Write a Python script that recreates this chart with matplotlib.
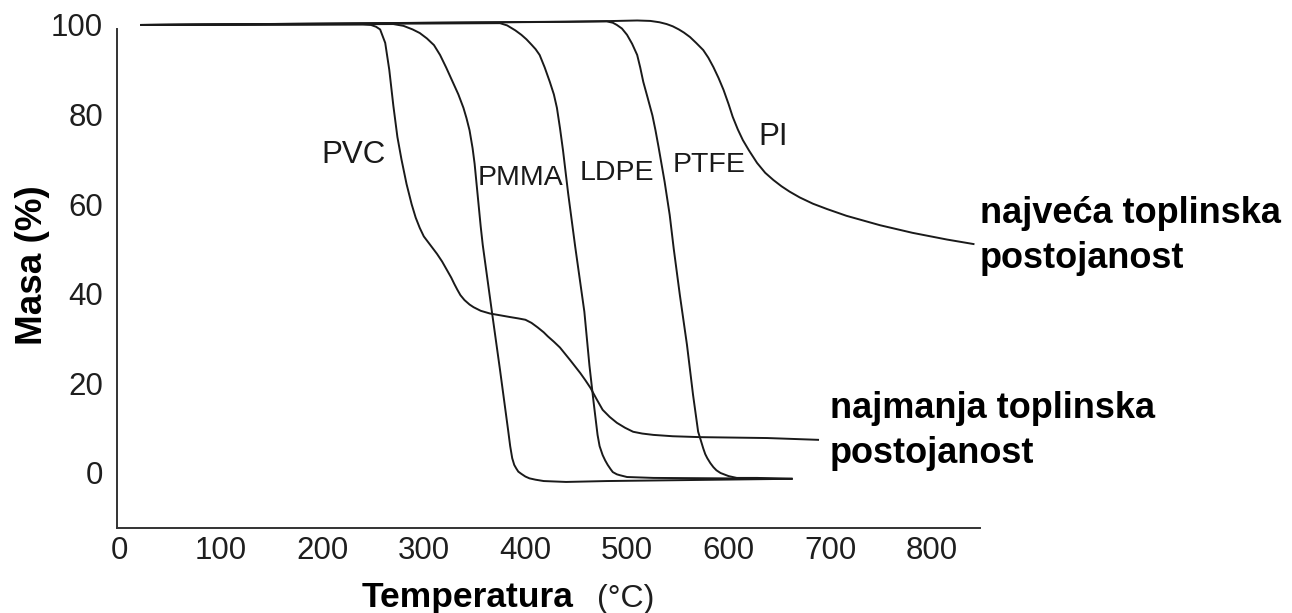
import matplotlib.pyplot as plt

plt.rcParams['font.family'] = ['Liberation Sans', 'DejaVu Sans']

# TGA krivulje (temperatura u °C, masa u %), ocitano sa slike
pvc_t = [22, 240, 248, 253, 257, 262, 266, 270, 274, 278, 283, 288, 292, 296, 300, 305, 309,
         313, 318, 323, 327, 330, 333, 336, 340, 345, 349, 356, 365, 375, 385, 393, 400, 406,
         412, 418, 422, 428, 434, 444, 454, 459, 464, 470, 476, 483, 490, 498, 506, 515, 526,
         545, 572, 638, 688]
pvc_m = [100, 100.1, 100, 99.6, 99, 96, 90, 82, 75, 70, 64.5, 60, 57, 54.7, 52.8, 51.3, 50.1,
         48.9, 47.2, 45.2, 43.6, 42.2, 40.9, 39.7, 38.6, 37.6, 37.0, 36.2, 35.6, 35.2, 34.8,
         34.5, 34.2, 33.5, 32.5, 31.4, 30.5, 29.3, 28, 25.2, 22.3, 20.7, 19, 16.5, 14.1, 12.5,
         11.2, 10.1, 9.2, 8.8, 8.5, 8.2, 8.0, 7.8, 7.4]

pmma_t = [22, 270, 280, 289, 296, 303, 310, 316, 322, 329, 334, 339, 342, 345, 348, 350, 353,
          356, 358, 367, 375, 383, 385, 387, 389, 391, 393, 396, 400, 404, 410, 418, 440, 480,
          662]
pmma_m = [100, 100.2, 99.8, 99, 98.2, 97, 95.5, 93.3, 90.5, 87, 84.5, 81.5, 79.2, 76.5, 72.5,
          69, 62, 55, 50.9, 36, 23, 9.5, 6, 3.3, 1.8, 1.0, 0.3, -0.2, -0.8, -1.2, -1.5, -1.8,
          -2.0, -1.8, -1.3]

ldpe_t = [22, 375, 382, 390, 396, 401, 406, 410, 414, 419, 424, 428, 431, 434, 437, 442, 449,
          458, 463, 467, 471, 473, 476, 478.5, 481, 484, 486, 490, 493, 500, 526, 662]
ldpe_m = [100, 100.4, 99.9, 98.8, 97.8, 96.8, 95.6, 94.6, 93.3, 90.5, 87.3, 84.5, 81.5, 77,
          72, 62.5, 50.5, 36, 24, 16, 8.5, 6, 4, 2.8, 1.8, 0.8, 0.2, -0.3, -0.5, -0.9, -1.1,
          -1.3]

ptfe_t = [22, 480, 486, 490, 495, 500, 505, 510, 513, 516, 520, 525, 528, 531, 537, 542, 546,
          552, 559, 565, 570, 573, 575, 577, 579, 582, 585, 588, 592, 600, 608, 628, 662]
ptfe_m = [100, 100.8, 100.5, 100, 99.2, 97.8, 95.8, 93.3, 90.5, 87.3, 84, 79.8, 76.5, 72.8,
          65, 57.6, 50, 39.7, 28.6, 17.4, 9.2, 7, 5.5, 4.2, 3.3, 2.2, 1.3, 0.6, 0, -0.7, -1.1,
          -1.1, -1.3]

pi_t = [22, 440, 490, 510, 523, 532, 539, 545, 551, 556, 562, 568, 575, 580, 585, 590, 595,
        600, 604, 609, 614, 620, 628, 636, 644, 652, 660, 670, 683, 697, 716, 749, 781, 815, 841]
pi_m = [100, 100.7, 100.9, 101, 100.9, 100.6, 100.2, 99.7, 99, 98.3, 97.3, 96, 94.4, 92.7,
        90.6, 88.2, 85.5, 82.3, 79.5, 76.7, 74.3, 72, 69.2, 67, 65.4, 64.0, 62.8, 61.5, 60.1,
        58.9, 57.4, 55.3, 53.6, 52.1, 51.1]

x_ticks = [0, 100, 200, 300, 400, 500, 600, 700, 800]
y_ticks = [0, 20, 40, 60, 80, 100]

W, H = 1292, 613
fig = plt.figure(figsize=(W / 100, H / 100), dpi=100)
ax = fig.add_axes([117 / W, (H - 528) / H, (980 - 117) / W, (528 - 16) / H])

line_kw = dict(color='#1a1a1a', lw=1.4, clip_on=False)
for t, m in [(pvc_t, pvc_m), (pmma_t, pmma_m), (ldpe_t, ldpe_m), (ptfe_t, ptfe_m), (pi_t, pi_m)]:
    ax.plot(t, m, **line_kw)

ax.set_xlim(-1.97, 847.4)
ax.set_ylim(-12.28, 102.0)
ax.set_xticks(x_ticks)
ax.set_yticks(y_ticks)
ax.tick_params(length=0, labelsize=22.5, labelcolor='#1e1e1e')
ax.tick_params(axis='x', pad=6)
ax.tick_params(axis='y', pad=10)
for s in ['top', 'right']:
    ax.spines[s].set_visible(False)
for s in ['left', 'bottom']:
    ax.spines[s].set_color('#333333')
    ax.spines[s].set_linewidth(1.4)
ax.spines['left'].set_bounds(-12.28, 99.1)

# oznake krivulja
txt = dict(color='#1a1a1a', va='baseline', ha='left')
ax.text(199, 69.2, 'PVC', fontsize=22.5, **txt)
ax.text(352.5, 64.3, 'PMMA', fontsize=20.5, **txt)
ax.text(453, 65.4, 'LDPE', fontsize=20.5, **txt)
ax.text(545, 67.2, 'PTFE', fontsize=20.5, **txt)
ax.text(629, 73.2, 'PI', fontsize=22.5, **txt)

bold = dict(color='black', va='baseline', ha='left', fontsize=26, weight='bold', clip_on=False)
ax.text(847.4, 55.8, 'najveća toplinska', **bold)
ax.text(847.4, 45.8, 'postojanost', **bold)
ax.text(699.8, 12.3, 'najmanja toplinska', **bold)
ax.text(699.8, 2.2, 'postojanost', **bold)

# naslovi osi
fig.text(33 / W, 1 - 265.5 / H, 'Masa (%)', rotation=90, ha='center', va='center',
         fontsize=26.5, weight='bold')
fig.text(362 / W, 1 - 607 / H, 'Temperatura', ha='left', va='baseline', fontsize=25.5, weight='bold')
fig.text(597 / W, 1 - 607 / H, '(°C)', ha='left', va='baseline', fontsize=23, color='#1e1e1e')

fig.savefig('out.png', dpi=100)
